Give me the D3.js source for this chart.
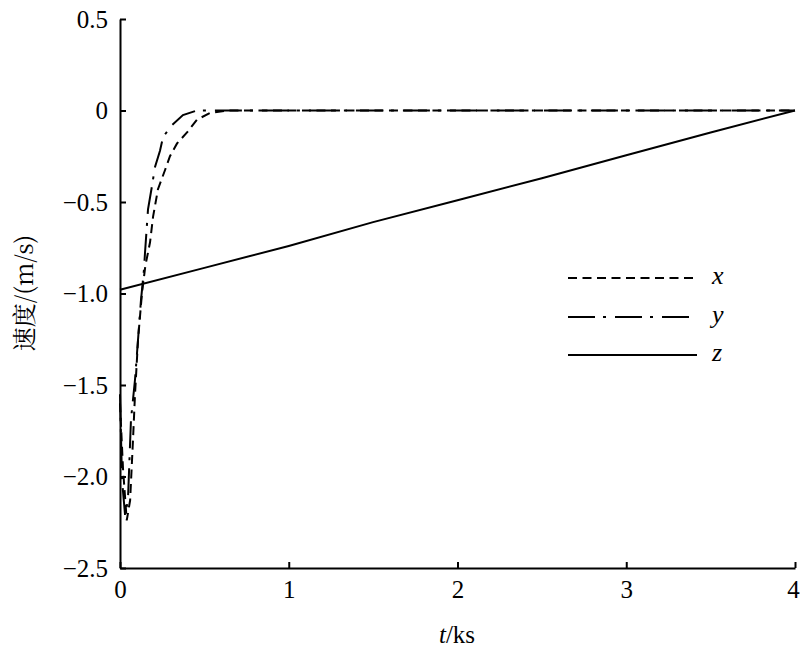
<!DOCTYPE html>
<html><head><meta charset="utf-8">
<script src="https://cdn.jsdelivr.net/npm/d3@7"></script>
</head><body style="margin:0">
<svg id="c" width="800" height="657"></svg>
<script>
// t in ks, velocity in m/s
const xSeriesT = [0, 0.018, 0.04, 0.06, 0.077, 0.089, 0.107, 0.13, 0.15, 0.178, 0.196, 0.225, 0.267, 0.296, 0.338, 0.397, 0.456, 0.533, 0.634, 4];
const xSeriesV = [-1.6, -1.96, -2.24, -2.13, -1.8, -1.55, -1.25, -1.0, -0.85, -0.72, -0.58, -0.43, -0.325, -0.25, -0.18, -0.12, -0.05, -0.014, 0, 0];
const ySeriesT = [0, 0.012, 0.03, 0.047, 0.065, 0.089, 0.107, 0.124, 0.142, 0.148, 0.166, 0.19, 0.207, 0.237, 0.255, 0.308, 0.373, 0.456, 4];
const ySeriesV = [-1.55, -2.02, -2.21, -2.13, -1.69, -1.47, -1.25, -1.04, -0.87, -0.78, -0.54, -0.41, -0.31, -0.22, -0.145, -0.08, -0.025, 0, 0];
const zSeriesT = [0, 0.5, 1, 1.5, 2, 2.5, 3, 3.5, 4];
const zSeriesV = [-0.98, -0.86, -0.74, -0.61, -0.49, -0.37, -0.245, -0.12, 0];
const xTicks = [0, 1, 2, 3, 4];
const yTicks = [0.5, 0, -0.5, -1.0, -1.5, -2.0, -2.5];
const yTickLabels = ["0.5", "0", "\u22120.5", "\u22121.0", "\u22121.5", "\u22122.0", "\u22122.5"];
const legendNames = ["x", "y", "z"];

const svg = d3.select("#c");
const SERIF = '"Liberation Serif"';
const L = 120, R = 795, T = 19, B = 568;
const xs = d3.scaleLinear().domain([0, 4]).range([L, R]);
const ys = d3.scaleLinear().domain([-2.5, 0.5]).range([B, T]);

const dashes = ["9,5.5", "27,8,3,9", null];

const series = [
  xSeriesT.map((t, i) => [t, xSeriesV[i]]),
  ySeriesT.map((t, i) => [t, ySeriesV[i]]),
  zSeriesT.map((t, i) => [t, zSeriesV[i]])
];
const line = d3.line().x(d => xs(d[0])).y(d => ys(d[1]));
series.forEach((s, i) => {
  svg.append("path").attr("d", line(s)).attr("fill", "none")
    .attr("stroke", "#000").attr("stroke-width", 2)
    .attr("stroke-dasharray", dashes[i]);
});

// axes
const xAxis = d3.axisBottom(xs).tickValues(xTicks).tickFormat(d3.format("d")).tickSizeInner(-6).tickSizeOuter(0).tickPadding(12);
const gx = svg.append("g").attr("transform", `translate(0,${B})`).call(xAxis);
const yAxis = d3.axisLeft(ys).tickValues(yTicks).tickFormat((d, i) => yTickLabels[i]).tickSizeInner(-6).tickSizeOuter(0).tickPadding(12);
const gy = svg.append("g").attr("transform", `translate(${L},0)`).call(yAxis);
[gx, gy].forEach(g => {
  g.attr("font-family", "Liberation Serif").attr("font-size", 25);
  g.selectAll("path.domain").attr("stroke", "#000").attr("stroke-width", 2);
  g.selectAll(".tick line").attr("stroke", "#000").attr("stroke-width", 2);
  g.selectAll("text").style("font-family", SERIF).style("font-size", "25px").attr("fill", "#000");
});
gx.selectAll("text").attr("dy", "0.71em");
gx.selectAll(".tick").filter(d => d === 4).select("text").attr("dx", -2);

// titles
const xt = svg.append("text").attr("x", 457).attr("y", 643).attr("text-anchor", "middle")
  .style("font-family", SERIF).style("font-size", "25px");
xt.append("tspan").style("font-style", "italic").text("t");
xt.append("tspan").text("/ks");
svg.append("text").attr("transform", "translate(33,293) rotate(-90)").attr("text-anchor", "middle")
  .style("font-family", '"Noto Serif CJK SC"').style("font-size", "24px").text("速度/(m/s)");

// legend
const legY = [278, 317, 355];
legendNames.forEach((n, i) => {
  svg.append("line").attr("x1", 568).attr("x2", 697).attr("y1", legY[i]).attr("y2", legY[i])
    .attr("stroke", "#000").attr("stroke-width", 2).attr("stroke-dasharray", dashes[i]);
  svg.append("text").attr("x", 712).attr("y", legY[i] + 6)
    .style("font-family", SERIF).style("font-style", "italic").style("font-size", "26px").text(n);
});
</script>
</body></html>
